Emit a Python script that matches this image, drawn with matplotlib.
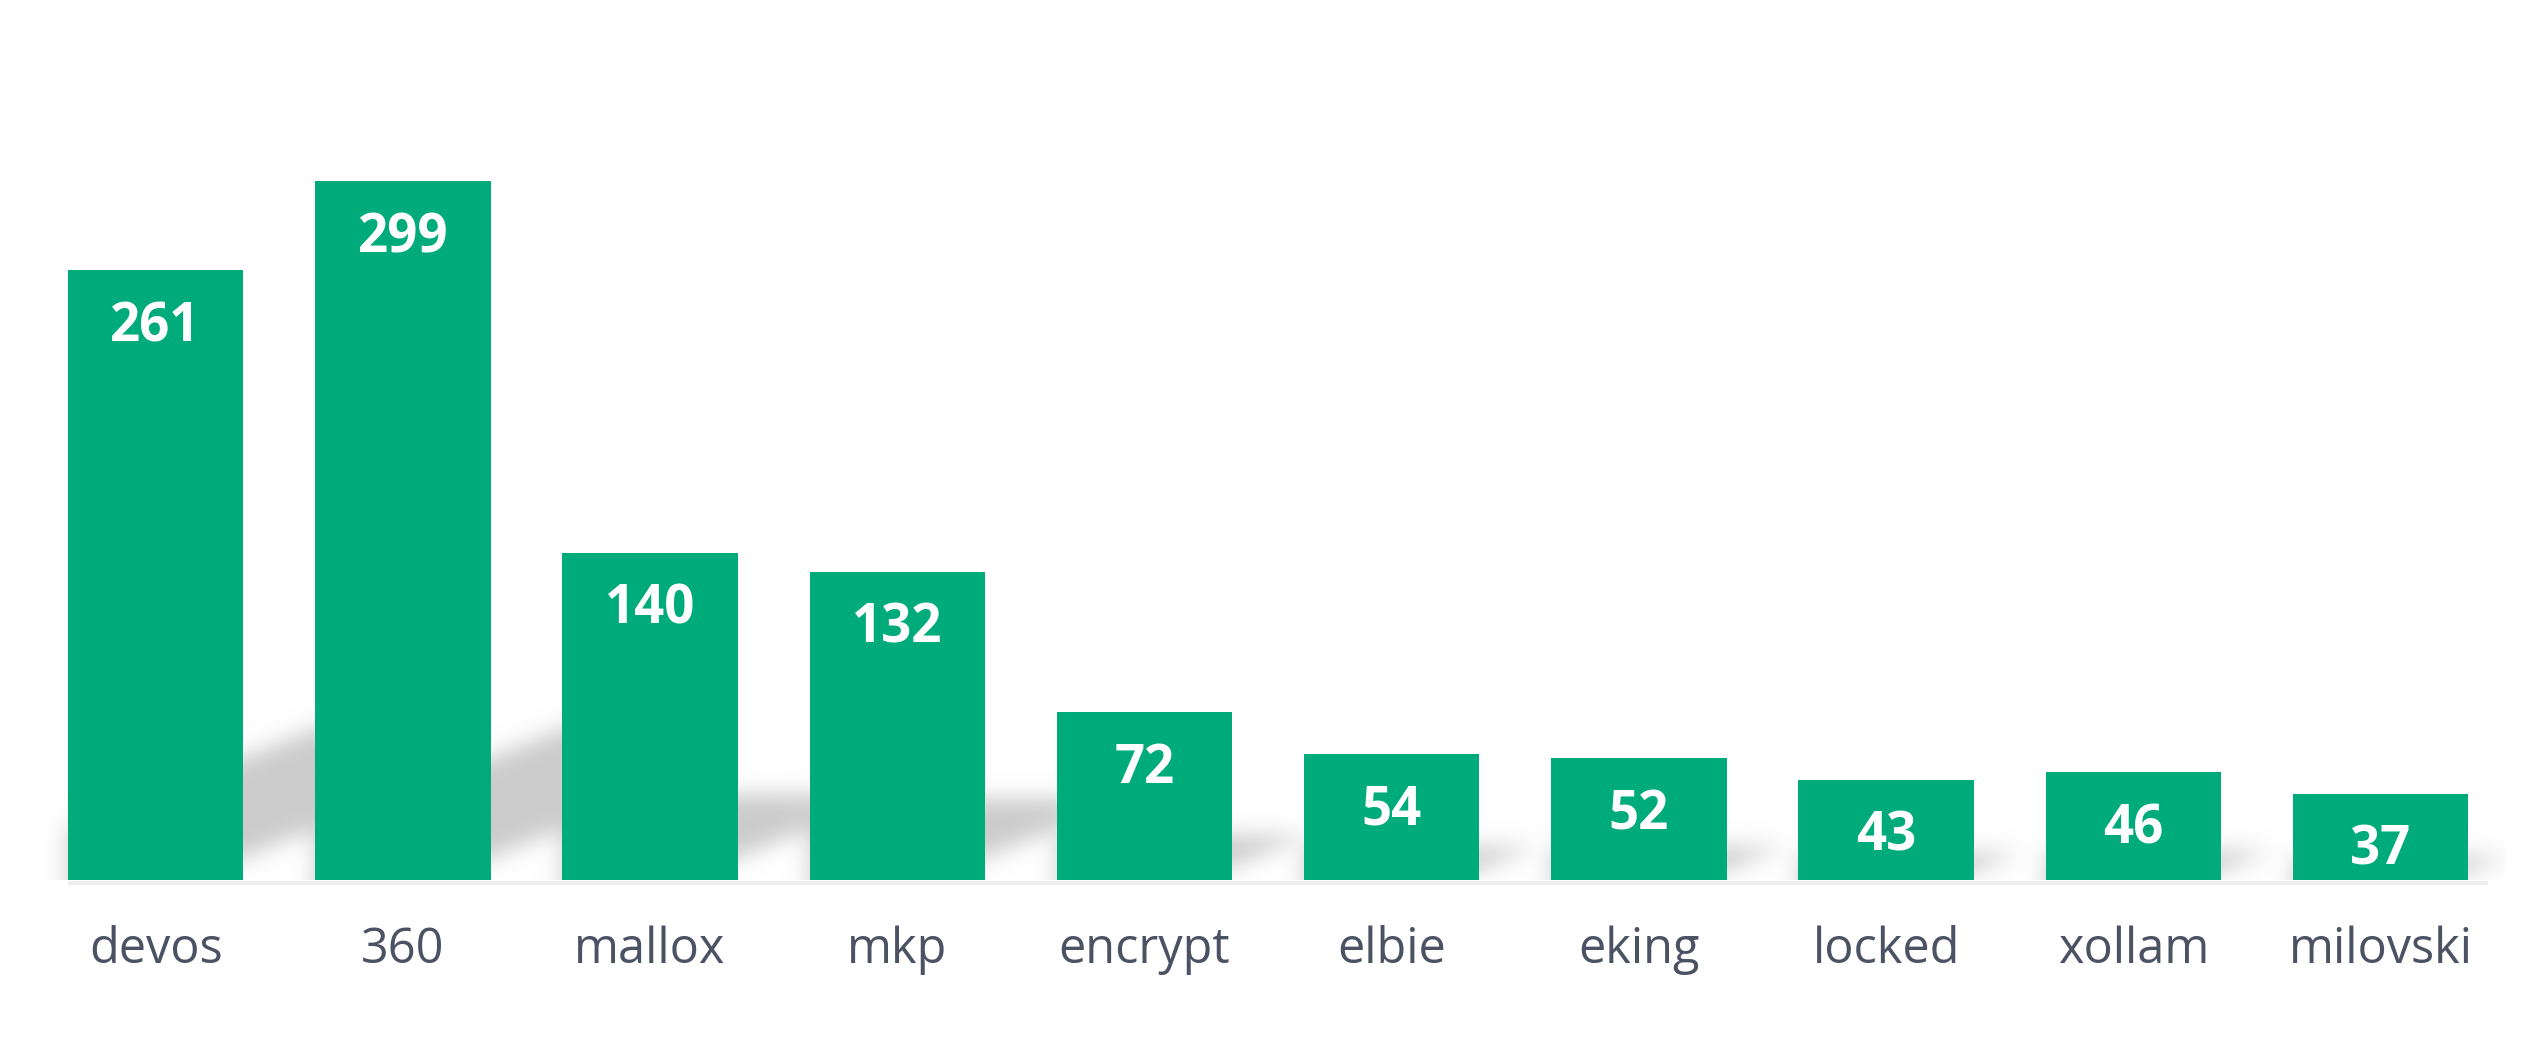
import numpy as np
import matplotlib.pyplot as plt

# Daten
categories = ["devos", "360", "mallox", "mkp", "encrypt", "elbie", "eking", "locked", "xollam", "milovski"]
values = [261, 299, 140, 132, 72, 54, 52, 43, 46, 37]

bar_color = "#00ab7b"
label_color = "#4b5263"
bar_width = 0.71

fig = plt.figure(figsize=(25.41, 10.62), dpi=100)
ax = fig.add_axes([0.0126, 0.1714, 0.9729, 0.770])

x = np.arange(len(categories))
ax.set_xlim(-0.5, len(categories) - 0.5)
ax.set_ylim(0, 350)

# Schatten hinter den Balken: schraeges Band nach rechts oben, weichgezeichnet
# (Rechnung in Pixeln, damit Steigung/Breite stimmen)
px_x = 0.9729 * 2541 / len(categories)
px_y = 0.770 * 1062 / 350
nx, ny = 1240, 420
gx = np.linspace(-0.5, len(categories) - 0.5, nx)
gy = np.linspace(0, 350, ny)
X, Y = np.meshgrid(gx, gy)
Xp, Yp = X * px_x, Y * px_y
mask = np.zeros_like(X)
s, T, L = 0.4, 100, 150
for xi, v in zip(x, values):
    hs = 0.26 * v * px_y
    y0 = min(22, 0.3 * hs)
    xl = (xi - bar_width / 2) * px_x
    xr = (xi + bar_width / 2) * px_x
    lo = y0 + s * (Xp - xr)
    inside = (Yp <= hs) & (Xp >= xl) & (Xp <= xr + L) & (Yp >= lo) & (Yp <= lo + T)
    mask[inside] = 1.0

sig = 5.5
t = np.arange(-20, 21)
kern = np.exp(-t ** 2 / (2 * sig ** 2))
kern /= kern.sum()
pad = np.pad(mask, ((20, 20), (20, 20)), mode="edge")
blur = np.apply_along_axis(lambda r: np.convolve(r, kern, mode="same"), 1, pad)
blur = np.apply_along_axis(lambda c: np.convolve(c, kern, mode="same"), 0, blur)
blur = blur[20:-20, 20:-20]

rgba = np.zeros((ny, nx, 4))
rgba[..., :3] = 0.8
rgba[..., 3] = np.clip(blur, 0, 1)
ax.imshow(rgba, extent=(-0.5, len(categories) - 0.5, 0, 350), origin="lower",
          aspect="auto", zorder=1, interpolation="bilinear")

# feine graue Kante unter den Balken
ax.hlines(-1.2, x[0] - bar_width / 2, x[-1] + bar_width / 2 + 0.08,
          color="#eeeeee", lw=3, zorder=1.5, clip_on=False)
bars = ax.bar(x, values, width=bar_width, color=bar_color, zorder=2)

# Werte in die Balken schreiben
for b, v in zip(bars, values):
    ax.annotate(str(v), (b.get_x() + b.get_width() / 2, v), xytext=(0, -41),
                textcoords="offset points", ha="center", va="center",
                color="white", fontsize=38, fontweight="bold", family="Open Sans", zorder=3)

ax.set_xticks(x)
ax.set_xticklabels(categories, fontsize=35, color=label_color, family="Open Sans")
ax.tick_params(axis="x", length=0, pad=33)
ax.set_yticks([])
for sp in ax.spines.values():
    sp.set_visible(False)

fig.savefig("out.png", dpi=100, facecolor="white")
